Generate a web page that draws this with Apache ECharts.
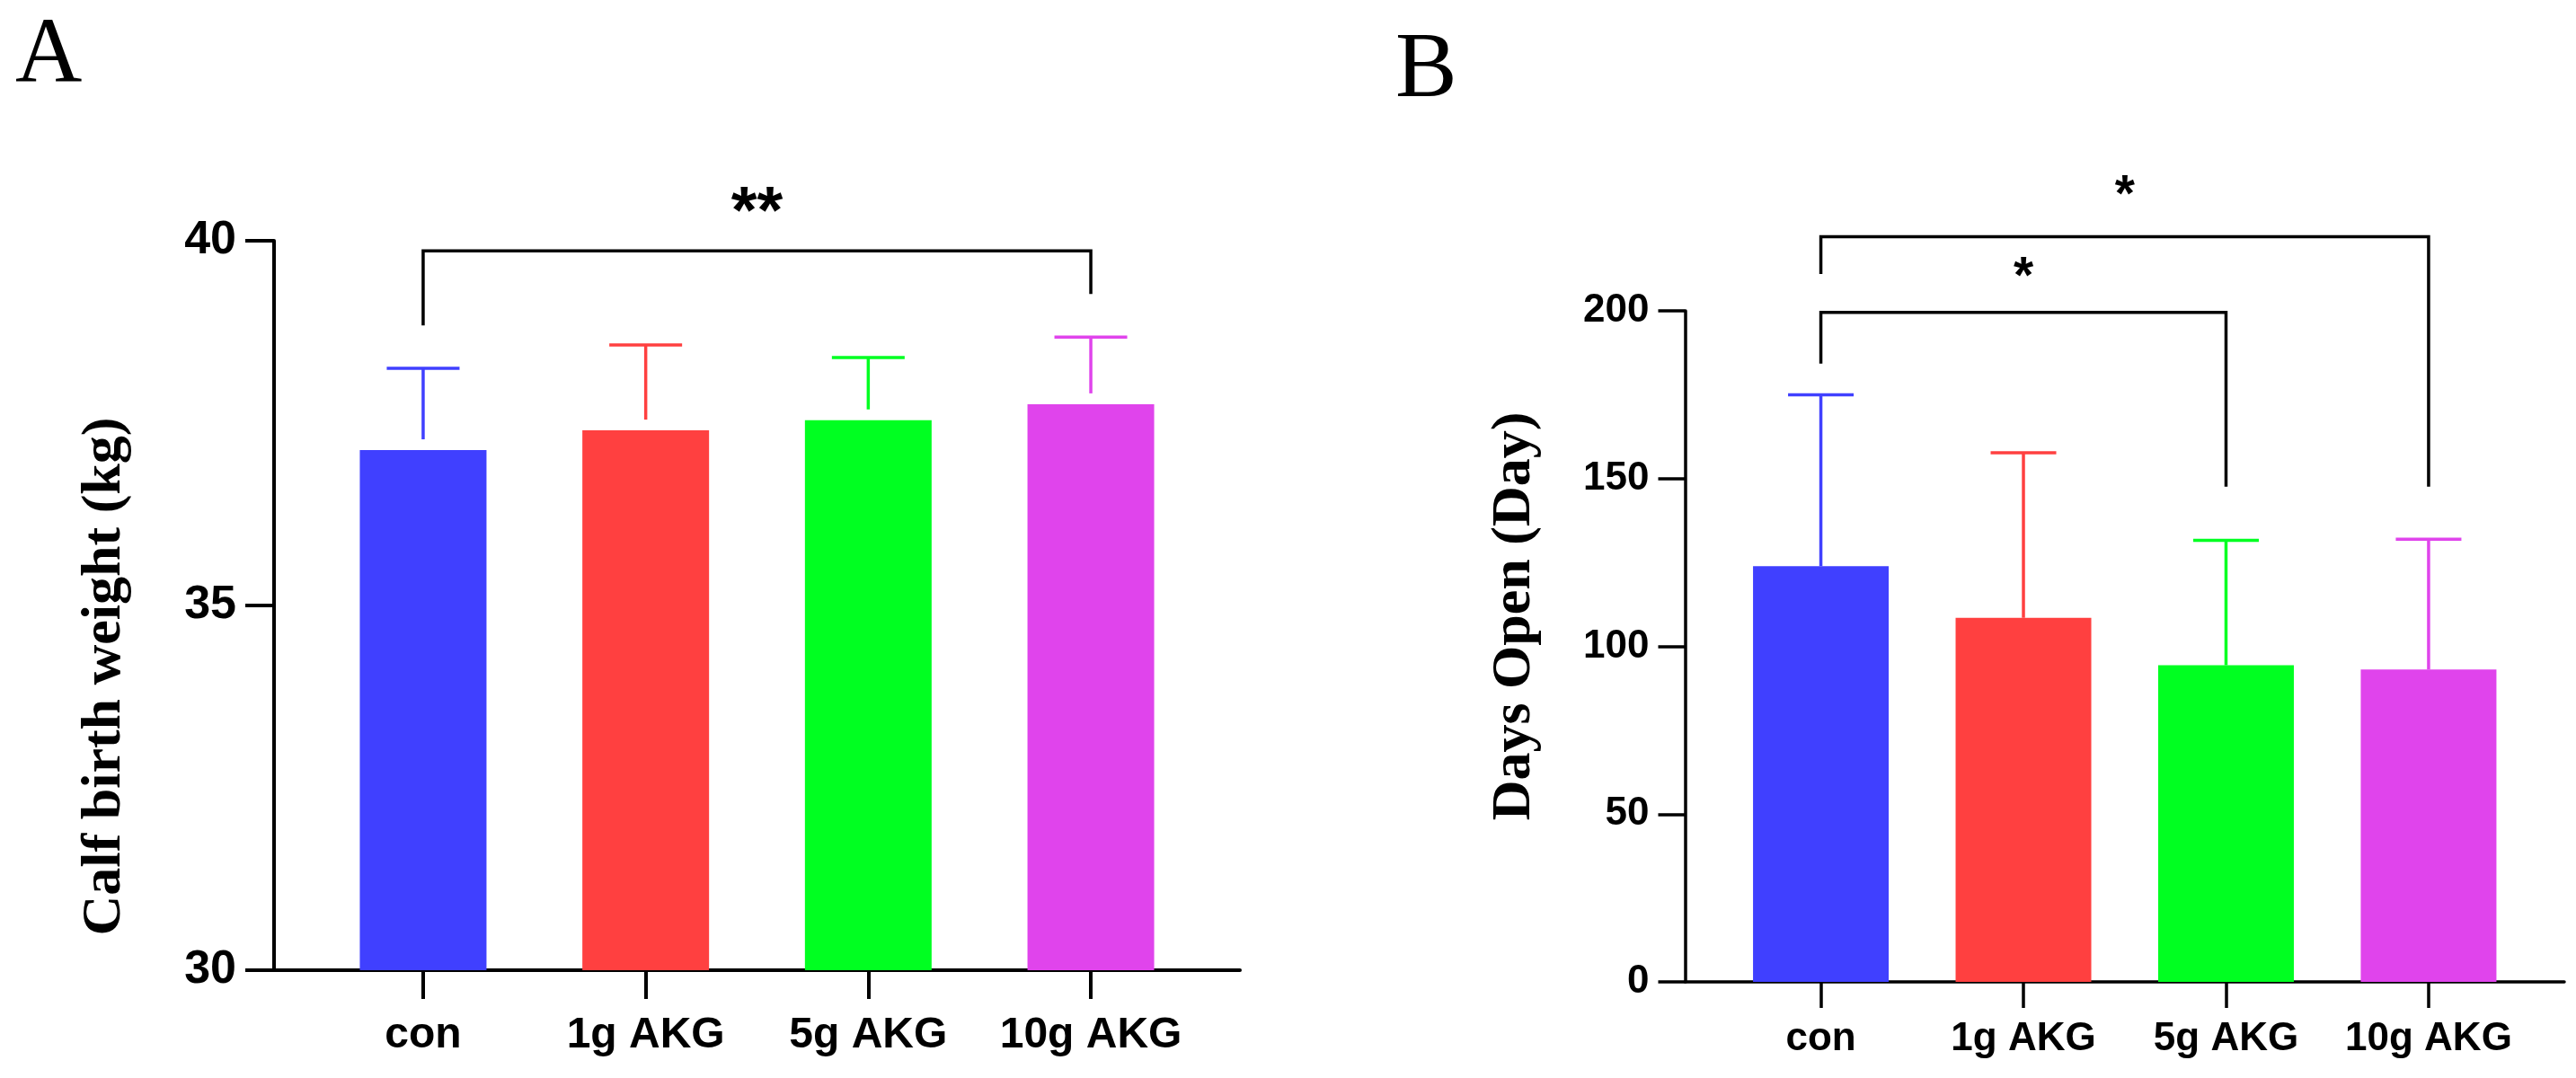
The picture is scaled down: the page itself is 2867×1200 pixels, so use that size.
<!DOCTYPE html>
<html>
<head>
<meta charset="utf-8">
<script src="https://cdn.jsdelivr.net/npm/echarts@6/dist/echarts.min.js"></script>
<style>
html,body{margin:0;padding:0;background:#fff;}
#chart{width:2867px;height:1200px;}
</style>
</head>
<body>
<div id="chart"></div>
<script>
// ---------- data ----------
const categories = ['con', '1g AKG', '5g AKG', '10g AKG'];
const barColors = ['#4040ff', '#ff4040', '#00ff21', '#e044ec'];

// Panel A: calf birth weight (kg), mean and SD
const weightMean = [37.13, 37.40, 37.54, 37.76];
const weightSD   = [1.12, 1.17, 0.86, 0.92];
const weightTicks = [30, 35, 40];

// Panel B: days open (day), mean and SD
const daysMean = [123.9, 108.5, 94.4, 93.1];
const daysSD   = [51.1, 49.2, 37.2, 38.8];
const daysTicks = [0, 50, 100, 150, 200];

// significance comparisons: [fromIndex, toIndex, label]
const weightSig = [[0, 3, '**']];
const daysSig   = [[0, 2, '*'], [0, 3, '*']];

// ---------- layout (positions, not data) ----------
// bracket heights in axis units: [top, leftLegEnd, rightLegEnd, labelY]
const weightBracketLayout = [[39.86, 38.84, 39.27, 40.36]];
const daysBracketLayout = [[199.5, 184.3, 147.6, 209.6], [222.1, 211.0, 147.6, 233.9]];

const catIdx = categories.map((c, i) => i);

function barData(means) {
  return means.map((m, i) => ({ value: [i, m], itemStyle: { color: barColors[i] } }));
}
function errData(means, sds) {
  return means.map((m, i) => [i, m, m + sds[i]]);
}
function bracketData(sig, layout) {
  return sig.map((s, i) => [s[0], s[1], layout[i][0], layout[i][1], layout[i][2], layout[i][3]]);
}

function errRender(gap, capW, lw) {
  return function (params, api) {
    const x = api.value(0), m = api.value(1), u = api.value(2);
    const p0 = api.coord([x, m]);
    const p1 = api.coord([x, u]);
    const color = barColors[params.dataIndex];
    return {
      type: 'group',
      children: [
        { type: 'line', shape: { x1: p0[0], y1: p0[1] - gap, x2: p1[0], y2: p1[1] }, style: { stroke: color, lineWidth: lw } },
        { type: 'line', shape: { x1: p1[0] - capW / 2, y1: p1[1], x2: p1[0] + capW / 2, y2: p1[1] }, style: { stroke: color, lineWidth: lw } }
      ]
    };
  };
}

function bracketRender(sig, fontSize) {
  return function (params, api) {
    const a = api.value(0), b = api.value(1);
    const top = api.value(2), le = api.value(3), re = api.value(4), ly = api.value(5);
    const pTL = api.coord([a, top]), pTR = api.coord([b, top]);
    const pL = api.coord([a, le]), pR = api.coord([b, re]);
    const pLab = api.coord([(a + b) / 2, ly]);
    return {
      type: 'group',
      children: [
        { type: 'polyline', shape: { points: [[pL[0], pL[1]], [pTL[0], pTL[1]], [pTR[0], pTR[1]], [pR[0], pR[1]]] },
          style: { stroke: '#000', lineWidth: 3.5, fill: null, lineJoin: 'miter' } },
        { type: 'text', x: pLab[0], y: pLab[1],
          style: { text: sig[params.dataIndex][2], fill: '#000', font: 'bold ' + fontSize + 'px "Liberation Sans", Arial, sans-serif', align: 'center', verticalAlign: 'middle' } }
      ]
    };
  };
}

const axisLineStyle = { color: '#000', width: 4 };
const yTitleStyle = (pad) => ({
  fontFamily: '"Liberation Serif", "Times New Roman", serif', fontWeight: 'bold', fontSize: 62, color: '#000', padding: pad
});

const option = {
  animation: false,
  backgroundColor: '#fff',
  title: [
    { text: 'A', left: 12, top: 7, textStyle: { fontFamily: '"Liberation Serif", "Times New Roman", serif', fontWeight: 'normal', fontSize: 103, color: '#000' } },
    { text: 'B', left: 1548, top: 23, textStyle: { fontFamily: '"Liberation Serif", "Times New Roman", serif', fontWeight: 'normal', fontSize: 103, color: '#000' } }
  ],
  grid: [
    { left: 305, right: 2867 - 1380, top: 268, bottom: 1200 - 1080, containLabel: false },
    { left: 1875.5, right: 2867 - 2854, top: 346, bottom: 1200 - 1093, containLabel: false }
  ],
  xAxis: [
    {
      gridIndex: 0, type: 'value', min: -0.67, max: 3.67,
      axisLine: { show: true, onZero: false, lineStyle: axisLineStyle },
      axisTick: { show: true, customValues: catIdx, length: 32, lineStyle: axisLineStyle },
      axisLabel: { show: true, customValues: catIdx, formatter: (v) => categories[Math.round(v)], margin: 49,
        fontFamily: '"Liberation Sans", Arial, sans-serif', fontWeight: 'bold', fontSize: 48, color: '#000' },
      splitLine: { show: false }
    },
    {
      gridIndex: 1, type: 'value', min: -0.67, max: 3.67,
      axisLine: { show: true, onZero: false, lineStyle: { color: '#000', width: 3.5 } },
      axisTick: { show: true, customValues: catIdx, length: 29, lineStyle: { color: '#000', width: 3.5 } },
      axisLabel: { show: true, customValues: catIdx, formatter: (v) => categories[Math.round(v)], margin: 42,
        fontFamily: '"Liberation Sans", Arial, sans-serif', fontWeight: 'bold', fontSize: 44, color: '#000' },
      splitLine: { show: false }
    }
  ],
  yAxis: [
    {
      gridIndex: 0, type: 'value', min: weightTicks[0], max: weightTicks[weightTicks.length - 1], interval: weightTicks[1] - weightTicks[0],
      name: 'Calf birth weight (kg)', nameLocation: 'middle', nameGap: 157, nameRotate: 90,
      nameTextStyle: yTitleStyle([0, 158, 0, 0]),
      axisLine: { show: true, onZero: false, lineStyle: axisLineStyle },
      axisTick: { show: true, length: 32, lineStyle: axisLineStyle },
      axisLabel: { margin: 42, fontFamily: '"Liberation Sans", Arial, sans-serif', fontWeight: 'bold', fontSize: 52, color: '#000' },
      splitLine: { show: false }
    },
    {
      gridIndex: 1, type: 'value', min: daysTicks[0], max: daysTicks[daysTicks.length - 1], interval: daysTicks[1] - daysTicks[0],
      name: 'Days Open (Day)', nameLocation: 'middle', nameGap: 159, nameRotate: 90,
      nameTextStyle: yTitleStyle([0, 0, 0, 67]),
      axisLine: { show: true, onZero: false, lineStyle: { color: '#000', width: 3.5 } },
      axisTick: { show: true, length: 30, lineStyle: { color: '#000', width: 3.5 } },
      axisLabel: { margin: 40, fontFamily: '"Liberation Sans", Arial, sans-serif', fontWeight: 'bold', fontSize: 44, color: '#000' },
      splitLine: { show: false }
    }
  ],
  series: [
    { type: 'bar', xAxisIndex: 0, yAxisIndex: 0, barWidth: 141, data: barData(weightMean), z: 2 },
    { type: 'custom', xAxisIndex: 0, yAxisIndex: 0, renderItem: errRender(12, 81, 3.5), data: errData(weightMean, weightSD), encode: { x: 0, y: [1, 2] }, z: 3 },
    { type: 'custom', xAxisIndex: 0, yAxisIndex: 0, renderItem: bracketRender(weightSig, 74), data: bracketData(weightSig, weightBracketLayout), encode: { x: [0, 1], y: [2, 3, 4, 5] }, clip: false, z: 4 },

    { type: 'bar', xAxisIndex: 1, yAxisIndex: 1, barWidth: 151, data: barData(daysMean), z: 2 },
    { type: 'custom', xAxisIndex: 1, yAxisIndex: 1, renderItem: errRender(0, 73, 3.5), data: errData(daysMean, daysSD), encode: { x: 0, y: [1, 2] }, z: 3 },
    { type: 'custom', xAxisIndex: 1, yAxisIndex: 1, renderItem: bracketRender(daysSig, 57), data: bracketData(daysSig, daysBracketLayout), encode: { x: [0, 1], y: [2, 3, 4, 5] }, clip: false, z: 4 }
  ]
};

const chart = echarts.init(document.getElementById('chart'), null, { renderer: 'canvas' });
chart.setOption(option);
</script>
</body>
</html>
